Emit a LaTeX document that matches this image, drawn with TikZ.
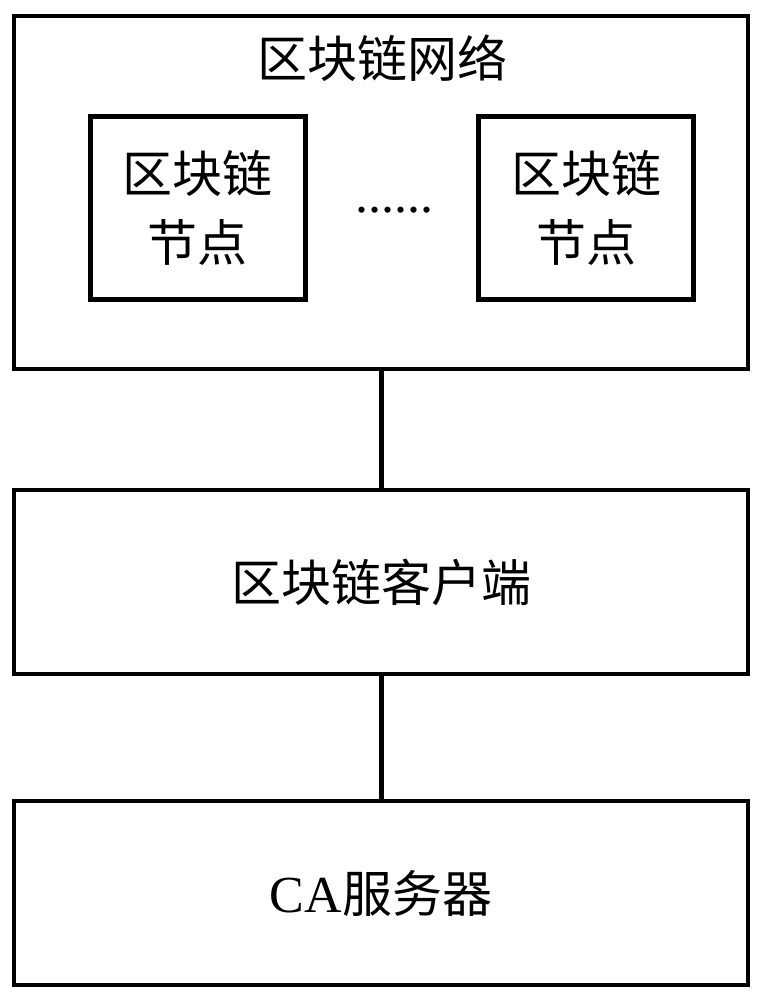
\documentclass[tikz,border=0pt]{standalone}
\usepackage{fontspec}
\setmainfont{Noto Sans CJK SC}
\newfontfamily\cafont{Liberation Serif}
\usetikzlibrary{positioning}

\begin{document}
\begin{tikzpicture}[x=0.5pt, y=-0.5pt,
    box/.style={draw, line width=2pt, minimum width=367pt, inner sep=0pt},
    nodebox/.style={draw, line width=2.5pt, minimum width=107.5pt, minimum height=91.5pt,
      inner sep=0pt, align=center, font=\fontsize{25}{34.5}\selectfont},
    label/.style={font=\fontsize{25}{30}\selectfont, inner sep=0pt}]
  \useasboundingbox (0,0) rectangle (764,1000);
  % blockchain network
  \node[box, minimum height=176.5pt] (net) at (381,192.5) {};
  \node[label] (nettitle) at (382,58) {区块链网络};
  \node[nodebox] (nodeA) at (197.75,208) {区块链\\节点};
  \node[nodebox] (nodeB) at (586,208) {区块链\\节点};
  \node[label, font=\cafont\fontsize{26}{30}\selectfont] (dots) at (394,210) {......};
  % client and CA
  \node[box, minimum height=92pt, label] (client) at (381,582) {区块链客户端};
  \node[box, minimum height=92pt, label] (ca) at (381,893) {{\cafont\fontsize{26}{30}\selectfont CA}服务器};
  \draw[line width=2.5pt] (net.south) -- (client.north);
  \draw[line width=2.5pt] (client.south) -- (ca.north);
\end{tikzpicture}
\end{document}
